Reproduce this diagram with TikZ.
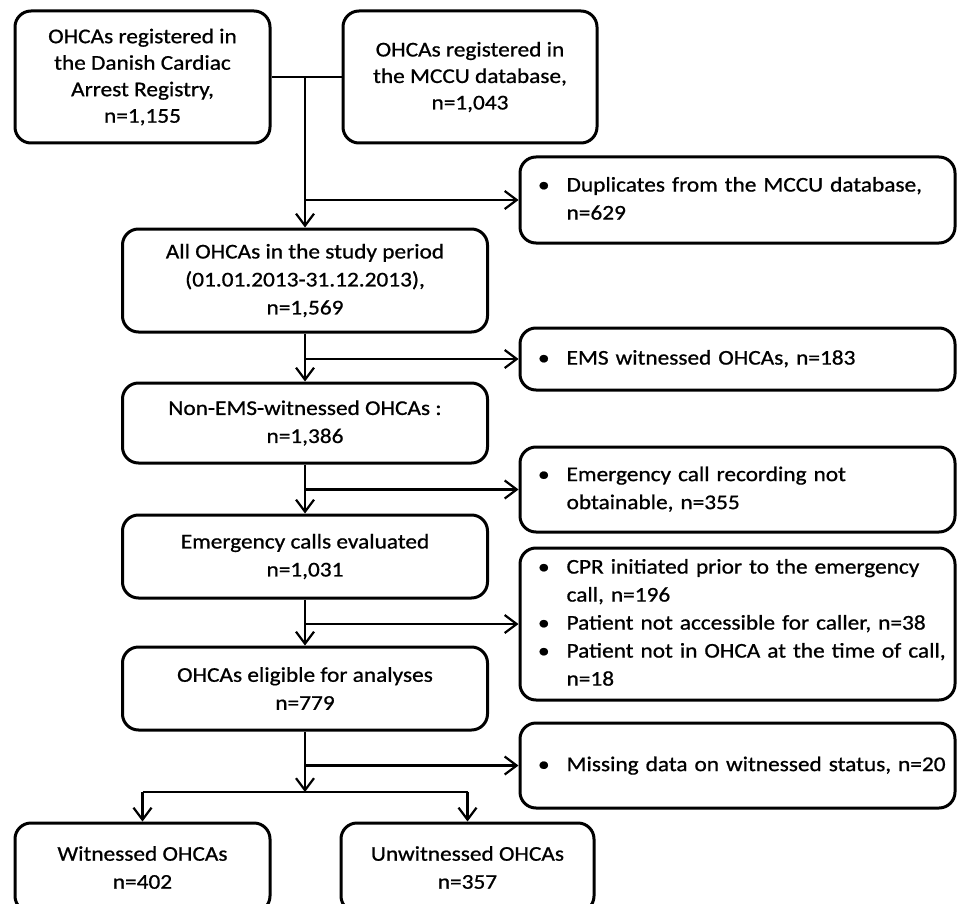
\documentclass[tikz,border=0pt]{standalone}
\usepackage{fontspec}
\setmainfont{Carlito}[FakeStretch=1.11, FakeBold=0.8]
\usetikzlibrary{arrows.meta}
\begin{document}
\begin{tikzpicture}[x=1pt,y=-1pt,
  box/.style={draw, line width=3pt, rounded corners=16pt, inner sep=0pt, align=center,
    font=\fontsize{21}{28}\selectfont},
  topbox/.style={box, font=\fontsize{21}{26.5}\selectfont},
  sidebox/.style={box, minimum width=435pt, text width=399pt, inner xsep=18pt, align=left},
  conn/.style={line width=2.2pt},
  arr/.style={conn, -{Straight Barb[length=12pt,width=18pt]}}]
\clip (0,0) rectangle (958,904);
\fill[white] (0,0) rectangle (958,904);
% top boxes
\node[topbox, minimum width=255pt, minimum height=132pt] (A) at (142.5,77)
  {OHCAs registered in\\the Danish Cardiac\\Arrest Registry,\\n=1,155};
\node[topbox, minimum width=254pt, minimum height=132pt] (B) at (470,77)
  {OHCAs registered in\\the MCCU database,\\n=1,043};
% main column
\node[box, minimum width=365pt, minimum height=103pt] (C) at (305,280.5)
  {All OHCAs in the study period\\(01.01.2013-31.12.2013),\\n=1,569};
\node[box, minimum width=365pt, minimum height=80pt] (D) at (305,423)
  {Non-EMS-witnessed OHCAs :\\n=1,386};
\node[box, minimum width=365pt, minimum height=83pt] (E) at (305,556.5)
  {Emergency calls evaluated\\n=1,031};
\node[box, minimum width=365pt, minimum height=83pt] (F) at (305,688.5)
  {OHCAs eligible for analyses\\n=779};
\node[box, minimum width=255pt, minimum height=89pt] (G) at (142.5,867.5)
  {Witnessed OHCAs\\n=402};
\node[box, minimum width=253pt, minimum height=89pt] (H) at (467.5,867.5)
  {Unwitnessed OHCAs\\n=357};
% exclusion boxes
\node[sidebox, minimum height=86pt] (X1) at (737.5,200)
  {\begin{tabular}{@{}l@{\hspace{17pt}}l@{}}\textbullet & Duplicates from the MCCU database,\\ & n=629\end{tabular}};
\node[sidebox, minimum height=62pt] (X2) at (737.5,359)
  {\begin{tabular}{@{}l@{\hspace{17pt}}l@{}}\textbullet & EMS witnessed OHCAs, n=183\end{tabular}};
\node[sidebox, minimum height=85pt] (X3) at (737.5,489.5)
  {\begin{tabular}{@{}l@{\hspace{17pt}}l@{}}\textbullet & Emergency call recording not\\ & obtainable, n=355\end{tabular}};
\node[sidebox, minimum height=152pt] (X4) at (737.5,624)
  {\begin{tabular}{@{}l@{\hspace{17pt}}l@{}}\textbullet & CPR initiated prior to the emergency\\ & call, n=196\\ \textbullet & Patient not accessible for caller, n=38\\ \textbullet & Patient not in OHCA at the time of call,\\ & n=18\end{tabular}};
\node[sidebox, minimum height=85pt] (X5) at (737.5,765.5)
  {\begin{tabular}{@{}l@{\hspace{17pt}}l@{}}\textbullet & Missing data on witnessed status, n=20\end{tabular}};
% junctions
\coordinate (j0) at (305,77);
\coordinate (j1) at (305,200);
\coordinate (j2) at (305,359);
\coordinate (j3) at (305,489.5);
\coordinate (j4) at (305,624);
\coordinate (j5) at (305,765.5);
\coordinate (s) at (305,792);
\coordinate (sL) at (142.5,792);
\coordinate (sR) at (467.5,792);
% connectors
\draw[conn] (A.east) -- (B.west);
\draw[arr] (j0) -- (C.north);
\draw[arr] (j1) -- (X1.west);
\draw[arr] (C.south) -- (D.north);
\draw[arr] (j2) -- (X2.west);
\draw[arr] (D.south) -- (E.north);
\draw[arr] (j3) -- (X3.west);
\draw[arr] (E.south) -- (F.north);
\draw[arr] (j4) -- (X4.west);
\draw[arr] (F.south) -- (s);
\draw[arr] (j5) -- (X5.west);
\draw[conn] (sL) -- (sR);
\draw[arr] (sL) -- (G.north);
\draw[arr] (sR) -- (H.north);
\end{tikzpicture}
\end{document}
